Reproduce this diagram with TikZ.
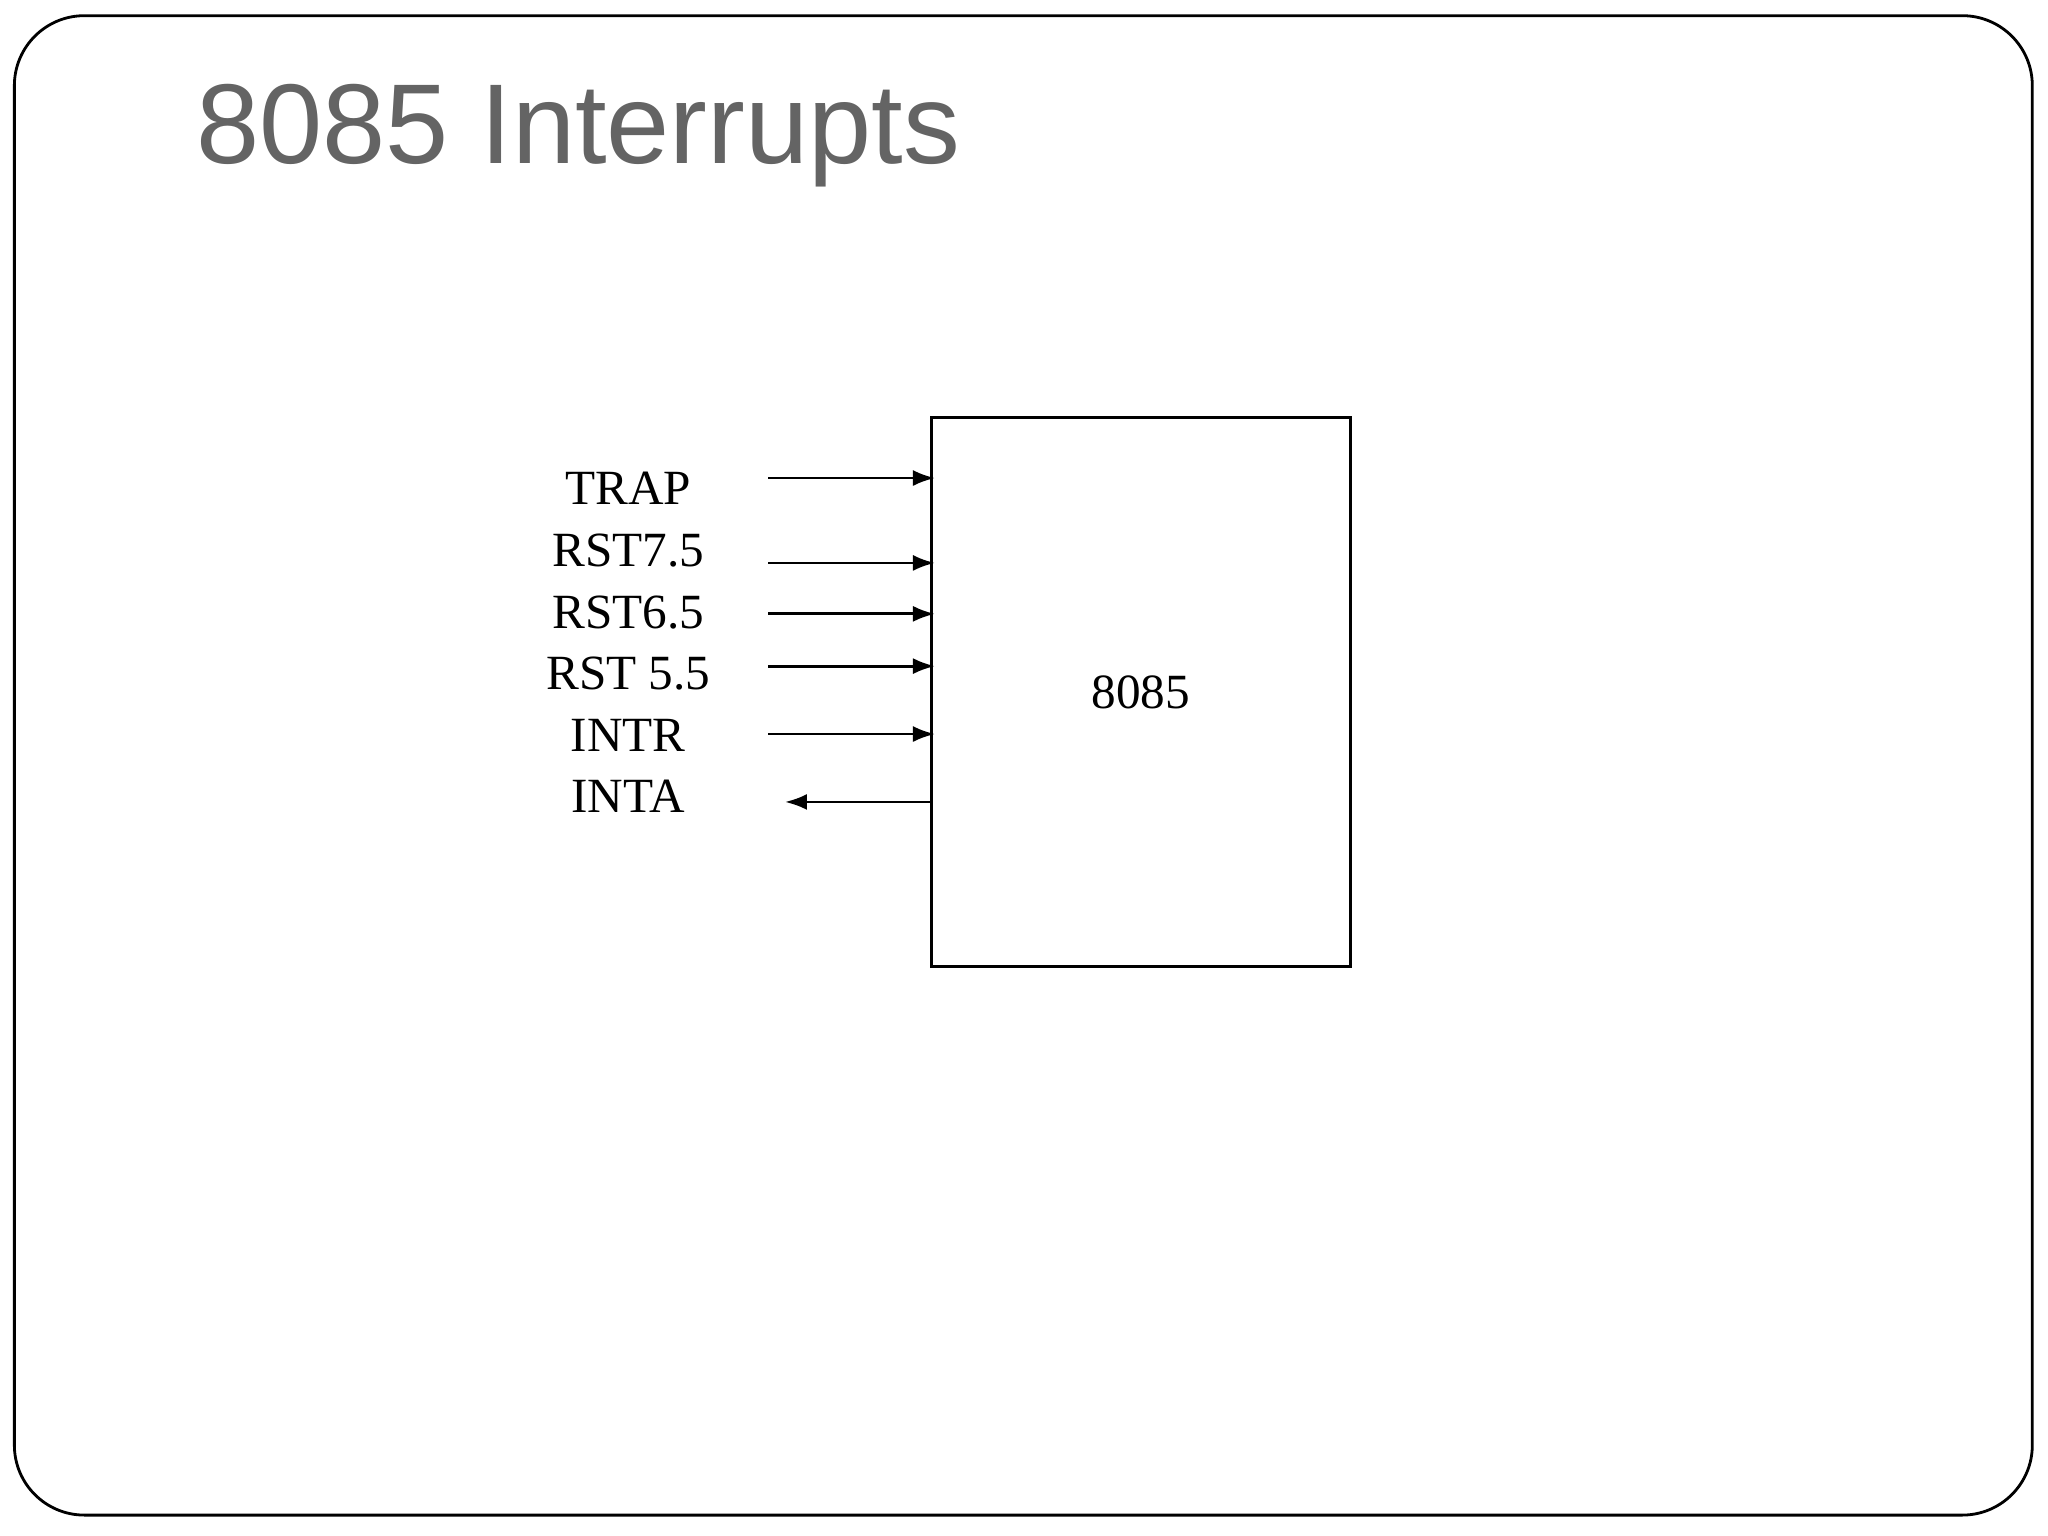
\documentclass[tikz,border=0pt]{standalone}
\usepackage{fontspec}
\setmainfont{Liberation Serif}
\newfontfamily\titlefont{Liberation Sans}
\usetikzlibrary{arrows,arrows.meta,positioning}
\definecolor{titlegray}{HTML}{646464}
\tikzstyle{arrow} = [-{Latex[length=2.2mm,width=1.6mm]}, line width=0.8pt]
\tikzstyle{pin} = [font=\fontsize{14}{14}\selectfont, anchor=base]
\tikzstyle{chip} = [rectangle, draw, line width=0.8pt, minimum width=4.19cm,
   minimum height=5.49cm, font=\fontsize{14}{14}\selectfont]
\begin{document}
\begin{tikzpicture}[x=0.01306cm, y=-0.01306cm]

\useasboundingbox (0,0) rectangle (1568,1176);
\draw[line width=0.8pt, rounded corners=0.7cm] (11,12) rectangle (1556,1160);

\node (title) [anchor=base west, text=titlegray, inner sep=0pt,
   font=\titlefont\fontsize{32.3}{32.3}\selectfont] at (150,125) {8085 Interrupts};

\node (cpu) [chip] at (873.5,530) {8085};

\node (trap) [pin] at (481,386) {TRAP};
\node (rst75) [pin] at (481,434) {RST7.5};
\node (rst65) [pin] at (481,481) {RST6.5};
\node (rst55) [pin] at (481,528) {RST 5.5};
\node (intr) [pin] at (481,575) {INTR};
\node (inta) [pin] at (481,622) {INTA};

\coordinate (trapin) at (588,366);
\coordinate (rst75in) at (588,431);
\coordinate (rst65in) at (588,470);
\coordinate (rst55in) at (588,510);
\coordinate (intrin) at (588,562);
\coordinate (intaout) at (601,614);

\draw [arrow] (trapin) -- ([xshift=0.05cm]trapin -| cpu.west);
\draw [arrow] (rst75in) -- ([xshift=0.05cm]rst75in -| cpu.west);
\draw [arrow] (rst65in) -- ([xshift=0.05cm]rst65in -| cpu.west);
\draw [arrow] (rst55in) -- ([xshift=0.05cm]rst55in -| cpu.west);
\draw [arrow] (intrin) -- ([xshift=0.05cm]intrin -| cpu.west);
\draw [arrow] (intaout -| cpu.west) -- (intaout);

\end{tikzpicture}
\end{document}
